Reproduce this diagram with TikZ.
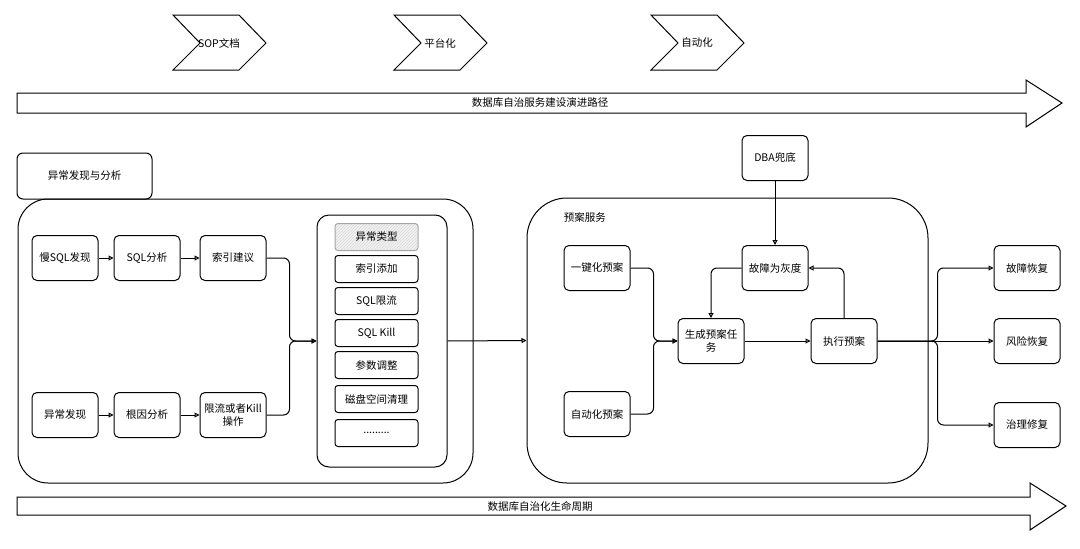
\documentclass[tikz,border=0pt]{standalone}
\usepackage{fontspec}
\newfontfamily\cjk{Noto Sans CJK SC}
\usetikzlibrary{arrows.meta,patterns}

\begin{document}
\begin{tikzpicture}[x=1pt,y=-1pt,line width=1pt,
  every node/.style={font=\cjk\fontsize{10.5}{12.5}\selectfont},
  box/.style={draw,rounded corners=5pt,minimum width=66pt,minimum height=45pt,
    align=center,inner sep=1pt},
  item/.style={draw,rounded corners=3pt,minimum width=83pt,minimum height=27pt,inner sep=1pt},
  flow/.style={-{Triangle[open,length=5pt,width=5pt]}}]
  \useasboundingbox (0,0) rectangle (1080,549);
  \newcommand{\chevron}[2]{% left x, label
    \draw (#1,15) -- (#1+66,15) -- (#1+93,43) -- (#1+66,70) -- (#1,70) -- (#1+27,43) -- cycle;
    \node at (#1+46,43) {#2};}
  \newcommand{\bigarrow}[6]{% top, bottom, head top, head bottom, head base, tip
    \draw (17,#1) -- (#5,#1) -- (#5,#3) -- (#6,{(#1+#2)/2}) -- (#5,#4) -- (#5,#2) -- (17,#2) -- cycle;}

  % road map
  \chevron{173}{SOP文档}
  \chevron{394}{平台化}
  \chevron{651}{自动化}
  \bigarrow{93}{113}{80}{127}{1026}{1062}
  \node (road) at (540,103) {数据库自治服务建设演进路径};

  % anomaly discovery and analysis
  \node[draw,rounded corners=30pt,minimum width=455pt,minimum height=284pt] (anom) at (245.5,341) {};
  \node[draw,rounded corners=6pt,minimum width=135pt,minimum height=46pt] (anomlab) at (84.5,176) {异常发现与分析};
  \node[box] (slow) at (65,258) {慢SQL发现};
  \node[box] (sqlan) at (147,258) {SQL分析};
  \node[box] (idx) at (233,258) {索引建议};
  \node[box] (abn) at (65,415) {异常发现};
  \node[box] (root) at (147,415) {根因分析};
  \node[box] (limit) at (233,415) {限流或者Kill\\操作};
  \draw[flow] (slow) -- (sqlan);
  \draw[flow] (sqlan) -- (idx);
  \draw[flow] (abn) -- (root);
  \draw[flow] (root) -- (limit);

  % anomaly types
  \node[draw,rounded corners=12pt,minimum width=130pt,minimum height=252pt] (kinds) at (382,341) {};
  \node[item,draw=gray!70,preaction={fill=gray!10},pattern=north east lines,pattern color=gray!30] (k0) at (376.5,237) {异常类型};
  \foreach \y/\lab/\nm in {269/索引添加/k1,301/SQL限流/k2,333/SQL Kill/k3,365/参数调整/k4,399/磁盘空间清理/k5}
    \node[item] (\nm) at (376.5,\y) {\lab};
  \node[item] (k6) at (376.5,433) {.........};
  \draw[flow,rounded corners=6pt] (idx.east) -- ++(23,0) |- (kinds.west);
  \draw[flow,rounded corners=6pt] (limit.east) -- ++(23,0) |- (kinds.west);

  % plan service
  \node[draw,rounded corners=40pt,minimum width=401pt,minimum height=285pt] (plan) at (727.5,340.5) {};
  \node[anchor=west] (planlab) at (560,217) {预案服务};
  \draw[flow] (kinds.east) -- (plan.west);
  \node[box] (dba) at (775,158) {DBA兜底};
  \node[box] (onekey) at (597,268) {一键化预案};
  \node[box] (autop) at (597,414) {自动化预案};
  \node[box] (gen) at (711,341) {生成预案任\\务};
  \node[box] (fault) at (775,268) {故障为灰度};
  \node[box] (exec) at (844,341) {执行预案};
  \draw[flow] (dba) -- (fault);
  \draw[flow,rounded corners=6pt] (onekey.east) -- ++(23,0) |- (gen.west);
  \draw[flow,rounded corners=6pt] (autop.east) -- ++(23,0) |- (gen.west);
  \draw[flow,rounded corners=6pt] (fault.west) -| (gen.north);
  \draw[flow] (gen) -- (exec);
  \draw[flow,rounded corners=6pt] (exec.north) |- (fault.east);

  % outcomes
  \node[box] (frec) at (1027,268) {故障恢复};
  \node[box] (rrec) at (1027,341) {风险恢复};
  \node[box] (grec) at (1027,425) {治理修复};
  \draw[flow,rounded corners=6pt] (exec.east) -- ++(60,0) |- (frec.west);
  \draw[flow] (exec) -- (rrec);
  \draw[flow,rounded corners=6pt] (exec.east) -- ++(60,0) |- (grec.west);

  % life cycle
  \bigarrow{497}{515}{483}{530}{1030}{1066}
  \node (life) at (540,506) {数据库自治化生命周期};
\end{tikzpicture}
\end{document}
